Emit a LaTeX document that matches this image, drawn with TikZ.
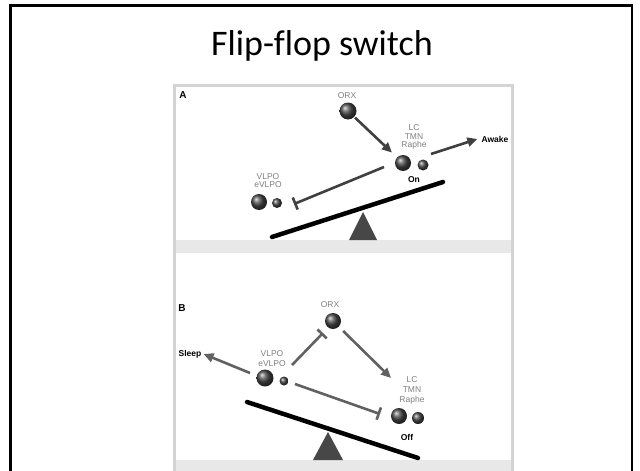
\documentclass[tikz,border=0pt]{standalone}
\usepackage{fontspec}
\setmainfont{Liberation Sans}
\newfontfamily\titlefont[Ligatures=NoCommon]{Carlito}
\usetikzlibrary{arrows.meta}
\begin{document}
\begin{tikzpicture}[x=1pt,y=-1pt,
  ball/.style={circle, inner sep=0pt, shading=ball, ball color=black!72},
  lbl/.style={font=\fontsize{8.5}{8.5}\selectfont, text=black!50, align=center, inner sep=0pt},
  tag/.style={font=\fontsize{8.5}{9}\selectfont\bfseries, inner sep=0pt},
  excite/.style={line width=2.6pt, -{Triangle[length=10pt,width=9pt]}},
  inhib/.style={line width=2.6pt, -{Bar[width=13pt]}},
  beam/.style={line width=4.5pt, line cap=round},
  fulcrum/.style={fill=black!72},
]
\useasboundingbox (0,0) rectangle (640,471);
\fill[white] (0,0) rectangle (640,471);

% slide frame and title
\draw[line width=2.6pt] (10.5,480) -- (10.5,5.3) -- (632,5.3) -- (632,480);
\node[font=\titlefont\fontsize{36}{36}\selectfont, anchor=base] (title) at (322,55) {Flip-flop switch};

% figure panel with grey bands under each half
\fill[black!9] (174,240) rectangle (512,253);
\fill[black!9] (174,460) rectangle (512,480);
\draw[black!17, line width=3pt] (174,480) -- (174,85) -- (512,85) -- (512,480);

% ---------------- panel A: wake ----------------
\node[font=\fontsize{10}{10}\selectfont\bfseries] (labA) at (183,95) {A};

\node[lbl] (orxAt) at (347,96) {ORX};
\node[ball, minimum size=17pt] (orxA) at (348,111) {};

\node[lbl] (lcAt) at (414,137) {LC\\TMN\\Raphe};
\node[ball, minimum size=16pt] (lcA) at (403,163) {};
\node[ball, minimum size=11pt] (lcsA) at (423,165) {};
\node[tag] (onA) at (414,180) {On};

\node[tag] (awake) at (495,139) {Awake};

\node[lbl] (vlAt) at (268,180.5) {VLPO\\eVLPO};
\node[ball, minimum size=16pt] (vlA) at (259,202) {};
\node[ball, minimum size=10pt] (vlsA) at (277,203) {};

\coordinate (awA0) at (431,154);
\coordinate (inhA0) at (384,167);
\coordinate (inhA1) at (294,204);

\draw[excite, black!75, shorten >=7pt, shorten <=1pt] (orxA) -- (lcA);
\draw[excite, black!75] (awA0) -- ([xshift=-4pt]awake.west);
\draw[inhib, black!75] (inhA0) -- (inhA1);

% seesaw A
\draw[beam] (272,237) -- (443,182);
\fill[fulcrum] (363,212) -- (377,240) -- (349,240) -- cycle;

% ---------------- panel B: sleep ----------------
\node[font=\fontsize{10}{10}\selectfont\bfseries] (labB) at (182,308) {B};

\node[lbl] (orxBt) at (330,305) {ORX};
\node[ball, minimum size=16pt] (orxB) at (333,321) {};

\node[tag] (sleep) at (190,354) {Sleep};

\node[lbl, font=\fontsize{8.5}{10.5}\selectfont] (vlBt) at (272,358.5) {VLPO\\eVLPO};
\node[ball, minimum size=17pt] (vlB) at (265,378) {};
\node[ball, minimum size=9pt] (vlsB) at (284,381) {};

\node[lbl, font=\fontsize{8.5}{10}\selectfont] (lcBt) at (412,390) {LC\\TMN\\Raphe};
\node[ball, minimum size=16pt] (lcB) at (399,416) {};
\node[ball, minimum size=12pt] (lcsB) at (418,418) {};
\node[tag] (offB) at (407,437) {Off};

\coordinate (orxB1) at (391,378);
\coordinate (slB0) at (250,373);
\coordinate (inhB0) at (292,365);
\coordinate (inhB1) at (323,333);
\coordinate (inhB2) at (295,384);
\coordinate (inhB3) at (380,414);

\draw[excite, black!62, shorten <=6pt] (orxB) -- (orxB1);
\draw[excite, black!62] (slB0) -- ([xshift=2pt]sleep.east);
\draw[inhib, black!62] (inhB0) -- (inhB1);
\draw[inhib, black!62] (inhB2) -- (inhB3);

% seesaw B
\draw[beam] (247,402) -- (418,458);
\fill[fulcrum] (328,432) -- (343,460) -- (313,460) -- cycle;
\end{tikzpicture}
\end{document}
